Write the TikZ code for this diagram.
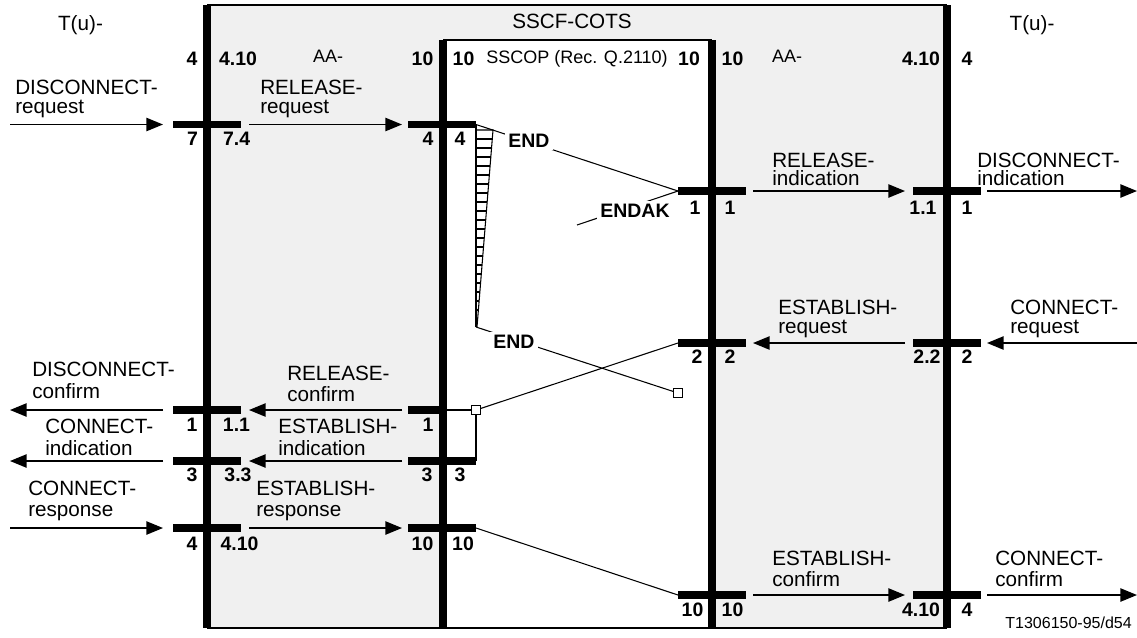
\documentclass[tikz,border=0pt]{standalone}
\usepackage{fontspec}
\setmainfont{Liberation Sans}
\usetikzlibrary{arrows.meta}
\definecolor{boxgray}{HTML}{F0F0F0}
\newcommand{\siglab}[6]{%
  \node[sig] (#1a) at (#2,#3) {#5};
  \node[sig] (#1b) at (#2,#4) {#6};}
\newcommand{\numlab}[4]{\node[num] (#1) at (#2,#3) {#4};}
\newcommand{\sigarrow}[4]{%
  \coordinate (#1s) at (#2,#4); \coordinate (#1e) at (#3,#4);
  \draw[sigarr] (#1s) -- (#1e);}
\newcommand{\barline}[4]{%
  \coordinate (#1l) at (#2,#4); \coordinate (#1r) at (#3,#4);
  \draw[barstyle] (#1l) -- (#1r);}
\tikzset{
  sig/.style={font=\fontsize{15.5}{18}\selectfont, anchor=base west, inner sep=0pt},
  small/.style={font=\fontsize{13.5}{16}\selectfont, anchor=base, inner sep=0pt},
  num/.style={font=\fontsize{14.6}{17}\selectfont\bfseries, anchor=base, inner sep=0pt},
  sigarr/.style={line width=1.1pt, -{Triangle[length=12.5pt,width=10pt]}},
  barstyle/.style={line width=5.8pt},
  wall/.style={line width=6pt},
  thinline/.style={line width=0.8pt},
  onlinelab/.style={font=\fontsize{14.6}{17}\selectfont\bfseries, anchor=base, fill=white, inner sep=2.25pt},
  sq/.style={draw, fill=white, line width=0.8pt, minimum size=6.5pt, inner sep=0pt},
}
\begin{document}
\begin{tikzpicture}[x=0.75pt,y=-0.75pt]
\useasboundingbox (0,0) rectangle (1137,637);
% areas
\fill[boxgray] (207,5) rectangle (947,628);
\fill[white] (443,40) rectangle (712,628);
\draw[line width=1.1pt] (207,5) -- (947,5);
\draw[line width=1.1pt] (207,628) -- (947,628);
\draw[line width=1.1pt] (443,40) -- (712,40);
\draw[wall] (207,5) -- (207,628);
\draw[wall] (947,5) -- (947,628);
\draw[wall] (443,40) -- (443,628);
\draw[wall] (712,40) -- (712,628);
% bars
\barline{la1}{173}{241}{124.5}
\barline{sl1}{408}{476}{124.5}
\barline{sr2}{678}{746}{191}
\barline{ra2}{913}{981}{191}
\barline{sr3}{678}{746}{343}
\barline{ra3}{913}{981}{343}
\barline{la4}{173}{241}{410}
\barline{sl4}{408}{447}{410}
\barline{la5}{173}{241}{461}
\barline{sl5}{408}{476}{461}
\barline{la6}{173}{241}{528}
\barline{sl6}{408}{476}{528}
\barline{sr7}{678}{746}{595}
\barline{ra7}{913}{981}{595}
% arrows
\sigarrow{a1}{10}{163}{124.5}
\sigarrow{b1}{249}{402}{124.5}
\sigarrow{a2}{753}{905}{191}
\sigarrow{b2}{987}{1137}{191}
\sigarrow{a3}{905}{753}{343}
\sigarrow{b3}{1137}{987}{343}
\sigarrow{a4}{163}{10}{410}
\sigarrow{b4}{402}{249}{410}
\sigarrow{a5}{163}{10}{461}
\sigarrow{b5}{402}{249}{461}
\sigarrow{a6}{10}{163}{528}
\sigarrow{b6}{249}{402}{528}
\sigarrow{a7}{753}{905}{595}
\sigarrow{b7}{987}{1137}{595}
% hatched timer triangle
\coordinate (triTop) at (476,130);
\coordinate (triTopR) at (493,130);
\coordinate (triBot) at (476,327);
\coordinate (triBotR) at (477,327);
\draw[thinline] (sl1r) -- (triBot);
\draw[thinline] (triTop) -- (triTopR) -- (triBotR);
\foreach \y in {139,148,...,320} \draw[thinline] (476,\y) -- ({493-(\y-130)*16/197},\y);
% squares
\node[sq] (sqA) at (678,393) {};
\node[sq] (sqB) at (476,410) {};
% internal connections
\coordinate (endakTail) at (577,225);
\draw[thinline] (sl1r) -- (sr2l);
\draw[thinline] (sr2l) -- (endakTail);
\draw[thinline] (triBot) -- (sqA);
\draw[thinline] (sl4r) -- (sqB);
\draw[thinline] (sqB) -- (sr3l);
\draw[thinline] (sqB) -- (sl5r);
\draw[thinline] (sl6r) -- (sr7l);
\node[onlinelab] (endA) at (529,147) {END};
\node[onlinelab] (endak) at (635,217) {ENDAK};
\node[onlinelab] (endB) at (514,348) {END};
% titles
\node[sig, anchor=base] (title) at (572,28.3) {SSCF-COTS};
\node[sig, anchor=base] (tuL) at (80.5,30) {T(u)-};
\node[sig, anchor=base] (tuR) at (1032,30) {T(u)-};
\node[small] (aaL) at (328,62) {AA-};
\node[small] (sscop) at (577,63.3) {SSCOP (Rec. Q.2110)};
\node[small] (aaR) at (787,62) {AA-};
\node[font=\fontsize{12}{14}\selectfont, anchor=base east, inner sep=0pt] (ref) at (1132,628) {T1306150-95/d54};
% numbers top
\numlab{t1}{192}{65}{4}
\numlab{t2}{238}{65}{4.10}
\numlab{t3}{422.5}{65}{10}
\numlab{t4}{463.5}{65}{10}
\numlab{t5}{689}{65}{10}
\numlab{t6}{732.5}{65}{10}
\numlab{t7}{921}{65}{4.10}
\numlab{t8}{967}{65}{4}
% row numbers
\numlab{r1a}{192.5}{145}{7}
\numlab{r1b}{236.7}{145}{7.4}
\numlab{r1c}{428}{145}{4}
\numlab{r1d}{460}{145}{4}
\numlab{r2a}{695}{214}{1}
\numlab{r2b}{730}{214}{1}
\numlab{r2c}{923}{214}{1.1}
\numlab{r2d}{967}{214}{1}
\numlab{r3a}{697}{363}{2}
\numlab{r3b}{730}{363}{2}
\numlab{r3c}{927}{363}{2.2}
\numlab{r3d}{967}{363}{2}
\numlab{r4a}{192}{431.7}{1}
\numlab{r4b}{236.5}{431.7}{1.1}
\numlab{r4c}{428}{431.7}{1}
\numlab{r5a}{192}{481.7}{3}
\numlab{r5b}{238}{481.7}{3.3}
\numlab{r5c}{427}{481.7}{3}
\numlab{r5d}{460}{481.7}{3}
\numlab{r6a}{192}{550}{4}
\numlab{r6b}{239.5}{550}{4.10}
\numlab{r6c}{422.5}{550}{10}
\numlab{r6d}{463}{550}{10}
\numlab{r7a}{692.5}{616.7}{10}
\numlab{r7b}{732.5}{616.7}{10}
\numlab{r7c}{921}{616.7}{4.10}
\numlab{r7d}{967}{616.7}{4}
% signal labels
\siglab{L1a}{15}{94}{113}{DISCONNECT-}{request}
\siglab{L1b}{260}{94}{113}{RELEASE-}{request}
\siglab{R2a}{772}{167}{185.5}{RELEASE-}{indication}
\siglab{R2b}{977}{167}{185.5}{DISCONNECT-}{indication}
\siglab{R3a}{778}{314.5}{333.5}{ESTABLISH-}{request}
\siglab{R3b}{1010}{314.5}{333.5}{CONNECT-}{request}
\siglab{L4a}{32}{376.7}{398.3}{DISCONNECT-}{confirm}
\siglab{L4b}{287}{380}{401.7}{RELEASE-}{confirm}
\siglab{L5a}{45}{433}{455}{CONNECT-}{indication}
\siglab{L5b}{278}{433.3}{455}{ESTABLISH-}{indication}
\siglab{L6a}{28}{495}{516.7}{CONNECT-}{response}
\siglab{L6b}{256}{495}{516.7}{ESTABLISH-}{response}
\siglab{R7a}{772}{565}{586.7}{ESTABLISH-}{confirm}
\siglab{R7b}{995}{565}{586.7}{CONNECT-}{confirm}
\end{tikzpicture}
\end{document}
